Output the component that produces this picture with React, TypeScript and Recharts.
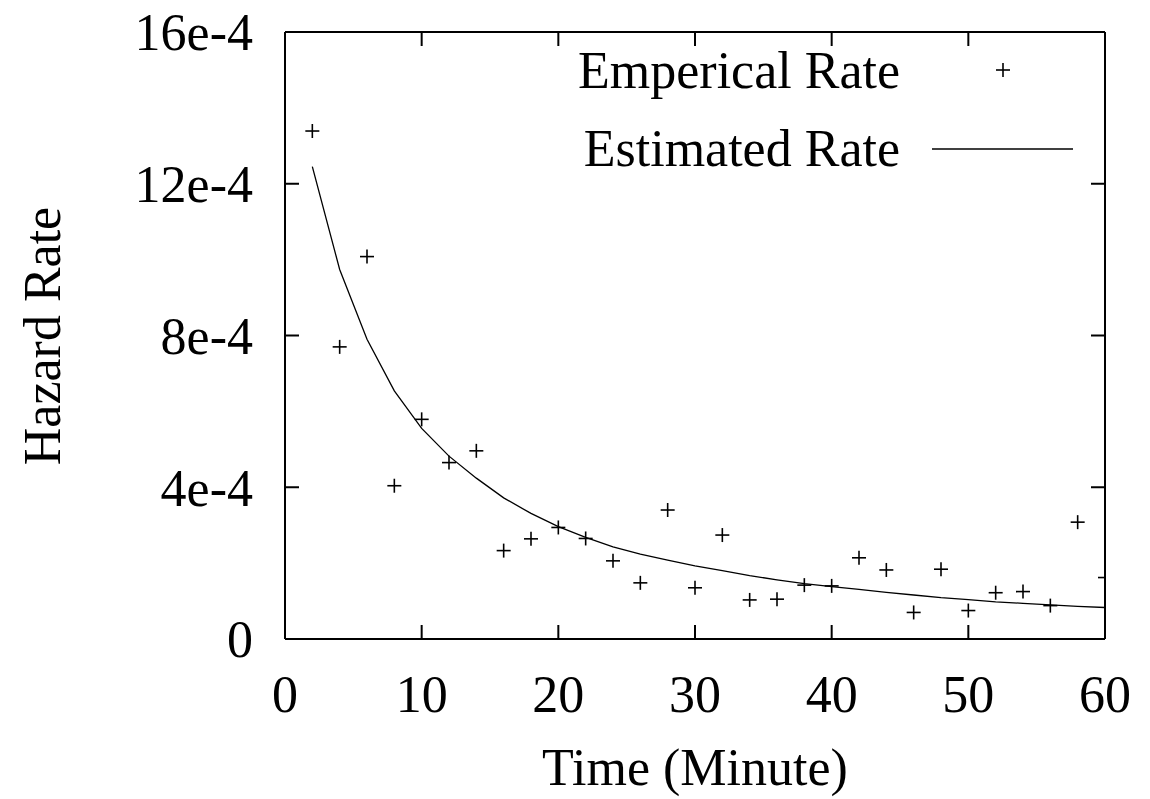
import React from 'react';
import {
  ComposedChart,
  Line,
  Scatter,
  XAxis,
  YAxis,
  Label,
  Legend,
  ReferenceLine,
} from 'recharts';

// Elapsed time since start, in minutes
const minutes = [
  2, 4, 6, 8, 10, 12, 14, 16, 18, 20, 22, 24, 26, 28, 30,
  32, 34, 36, 38, 40, 42, 44, 46, 48, 50, 52, 54, 56, 58, 60,
];

// Observed hazard rate per interval (units of 1e-4)
const empiricalRate = [
  13.39, 7.7, 10.08, 4.04, 5.79, 4.65, 4.96, 2.33, 2.64, 2.94, 2.65, 2.06, 1.48, 3.4, 1.35,
  2.74, 1.03, 1.05, 1.42, 1.4, 2.14, 1.82, 0.7, 1.84, 0.75, 1.22, 1.25, 0.88, 3.08, 1.62,
];

// Fitted hazard rate (units of 1e-4)
const estimatedRate = [
  12.45, 9.74, 7.9, 6.54, 5.55, 4.82, 4.24, 3.72, 3.31, 2.96, 2.68, 2.43, 2.24, 2.08, 1.93,
  1.8, 1.67, 1.56, 1.46, 1.38, 1.31, 1.23, 1.16, 1.09, 1.04, 0.98, 0.94, 0.9, 0.86, 0.83,
];

const xTicks = [0, 10, 20, 30, 40, 50, 60];
const yTicks = [0, 4e-4, 8e-4, 12e-4, 16e-4];
const yTickLabels = ['0', '4e-4', '8e-4', '12e-4', '16e-4'];

const seriesNames = ['Emperical Rate', 'Estimated Rate'];

const rows = minutes.map((t, i) => ({
  t,
  emp: empiricalRate[i] * 1e-4,
  est: estimatedRate[i] * 1e-4,
}));

const FONT = '"Liberation Serif", "Times New Roman", serif';
const FONT_SIZE = 52;
const INK = '#000';
const TICK_LEN = 14;

const Plus = (props: any) => {
  const { cx, cy } = props;
  if (cx == null || cy == null) return null;
  const r = 7;
  return (
    <g stroke={INK} strokeWidth={1.6}>
      <line x1={cx - r} y1={cy} x2={cx + r} y2={cy} />
      <line x1={cx} y1={cy - r} x2={cx} y2={cy + r} />
    </g>
  );
};

// Short inward marks at both ends of a vertical reference line
const VerticalTickPair = (p: any) => {
  const x = p.x1;
  const top = Math.min(p.y1, p.y2);
  const bottom = Math.max(p.y1, p.y2);
  return (
    <g stroke={INK} strokeWidth={2}>
      <line x1={x} y1={top} x2={x} y2={top + TICK_LEN} />
      <line x1={x} y1={bottom - TICK_LEN} x2={x} y2={bottom} />
    </g>
  );
};

// Short inward marks at both ends of a horizontal reference line
const HorizontalTickPair = (p: any) => {
  const y = p.y1;
  const left = Math.min(p.x1, p.x2);
  const right = Math.max(p.x1, p.x2);
  return (
    <g stroke={INK} strokeWidth={2}>
      <line x1={left} y1={y} x2={left + TICK_LEN} y2={y} />
      <line x1={right - TICK_LEN} y1={y} x2={right} y2={y} />
    </g>
  );
};

const formatY = (v: number) => {
  const idx = yTicks.findIndex((t) => Math.abs(t - v) < 1e-9);
  return idx >= 0 ? yTickLabels[idx] : String(v);
};

const LegendBox = () => (
  <svg width={1150} height={200} style={{ display: 'block', overflow: 'visible' }}>
    <g fontFamily={FONT} fontSize={FONT_SIZE} fill={INK}>
      <text x={900} y={88} textAnchor="end">{seriesNames[0]}</text>
      <text x={900} y={166} textAnchor="end">{seriesNames[1]}</text>
    </g>
    <Plus cx={1003} cy={70} />
    <line x1={932} y1={149} x2={1073} y2={149} stroke={INK} strokeWidth={1.4} />
  </svg>
);

const YTitle = () => (
  <text
    x={60}
    y={336}
    transform="rotate(-90, 60, 336)"
    textAnchor="middle"
    fontFamily={FONT}
    fontSize={FONT_SIZE}
    fill={INK}
  >
    Hazard Rate
  </text>
);

export default function App() {
  const tickStyle = { fontFamily: FONT, fontSize: FONT_SIZE, fill: INK };
  const axisLine = { stroke: INK, strokeWidth: 2 };
  return (
    <div style={{ position: 'absolute', left: 0, top: 0, background: '#fff' }}>
      <ComposedChart
        width={1150}
        height={799}
        data={rows}
        margin={{ top: 32, right: 45, bottom: 0, left: 0 }}
      >
        <XAxis
          xAxisId="x"
          dataKey="t"
          type="number"
          domain={[0, 60]}
          ticks={xTicks}
          allowDataOverflow
          height={160}
          axisLine={axisLine}
          tickLine={false}
          tickSize={0}
          tickMargin={36}
          tick={tickStyle}
          interval={0}
        >
          <Label
            value="Time (Minute)"
            position="insideBottom"
            offset={14}
            style={{ fontFamily: FONT, fontSize: FONT_SIZE, fill: INK }}
          />
        </XAxis>
        <YAxis
          yAxisId="y"
          type="number"
          domain={[0, 16e-4]}
          ticks={yTicks}
          allowDataOverflow
          width={285}
          axisLine={axisLine}
          tickLine={false}
          tickSize={0}
          tickMargin={32}
          tick={tickStyle}
          tickFormatter={formatY}
          interval={0}
        >
          <Label content={<YTitle />} />
        </YAxis>

        {/* top and right edges of the frame */}
        <ReferenceLine xAxisId="x" yAxisId="y" y={16e-4} stroke={INK} strokeWidth={2} />
        <ReferenceLine xAxisId="x" yAxisId="y" x={60} stroke={INK} strokeWidth={2} />

        {/* inward tick marks on all four sides */}
        {xTicks.map((t) => (
          <ReferenceLine key={`xt-${t}`} xAxisId="x" yAxisId="y" x={t} shape={VerticalTickPair} />
        ))}
        {yTicks.map((v) => (
          <ReferenceLine key={`yt-${v}`} xAxisId="x" yAxisId="y" y={v} shape={HorizontalTickPair} />
        ))}

        <Legend
          layout="horizontal"
          verticalAlign="middle"
          align="center"
          content={<LegendBox />}
          wrapperStyle={{ position: 'absolute', left: 0, top: 0, width: 1150, height: 200, pointerEvents: 'none' }}
        />
        <Scatter
          xAxisId="x"
          yAxisId="y"
          name={seriesNames[0]}
          dataKey="emp"
          shape={<Plus />}
          isAnimationActive={false}
        />
        <Line
          xAxisId="x"
          yAxisId="y"
          name={seriesNames[1]}
          type="linear"
          dataKey="est"
          stroke={INK}
          strokeWidth={1.3}
          dot={false}
          activeDot={false}
          isAnimationActive={false}
        />
      </ComposedChart>
    </div>
  );
}
